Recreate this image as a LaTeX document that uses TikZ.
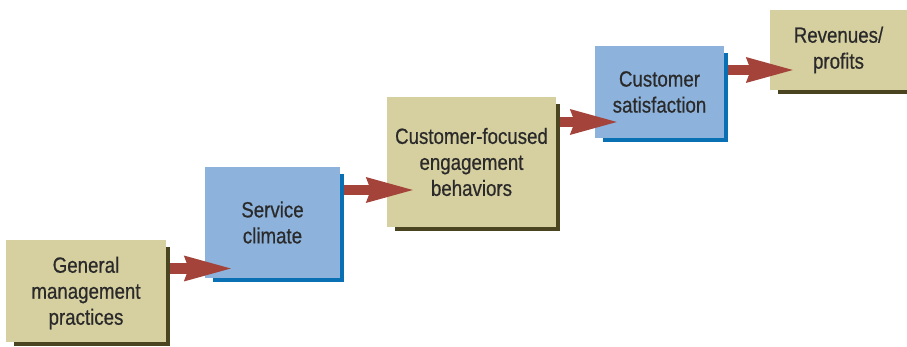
\documentclass[tikz,border=0pt]{standalone}
\usepackage{fontspec}
\setmainfont{Liberation Sans}[FakeStretch=0.85,FakeBold=0.6]
\usetikzlibrary{arrows.meta,calc,backgrounds}

\definecolor{tan}{HTML}{D6D0A0}
\definecolor{tanshade}{HTML}{4B4420}
\definecolor{sky}{HTML}{8DB3DC}
\definecolor{skyshade}{HTML}{0A70B4}
\definecolor{brick}{HTML}{A3433A}
\definecolor{ink}{HTML}{2A2A2A}

\tikzset{
  card/.style={inner sep=0pt, align=center, text=ink,
    font=\fontsize{22}{26}\selectfont},
  tancard/.style={card, fill=tan},
  skycard/.style={card, fill=sky},
  flow/.style={draw=brick, line width=10.5pt,
    -{Stealth[length=47pt,width=26pt,inset=5pt,line width=0pt,fill=brick]}},
}

% shadow strip behind a box, offset to the lower right
\newcommand{\cardshade}[2]{%
  \fill[#2] ($(#1.south west)+(8pt,-4pt)$) rectangle ($(#1.north east)+(4pt,-7pt)$);}

\begin{document}
\begin{tikzpicture}[x=1pt,y=1pt]
  \useasboundingbox (0,0) rectangle (907,347);

  % boxes
  \node[tancard, minimum width=160pt, minimum height=102pt] (gmp) at (86,56)
    {\\[-6pt]General\\management\\practices};
  \node[skycard, minimum width=135pt, minimum height=111pt] (svc) at (272.5,124.5)
    {Service\\climate};
  \node[tancard, minimum width=169pt, minimum height=130pt] (ceb) at (471.5,185)
    {Customer-focused\\engagement\\behaviors};
  \node[skycard, minimum width=129pt, minimum height=92pt] (csat) at (659.5,255)
    {Customer\\satisfaction};
  \node[tancard, minimum width=137pt, minimum height=80pt] (rev) at (838.5,297)
    {Revenues/\\profits};

  \begin{scope}[on background layer]
    \cardshade{gmp}{tanshade}
    \cardshade{svc}{skyshade}
    \cardshade{ceb}{tanshade}
    \cardshade{csat}{skyshade}
    \cardshade{rev}{tanshade}
  \end{scope}

  % arrow tips
  \coordinate (tip1) at ($(svc.west)+(26pt,-46pt)$);
  \coordinate (tip2) at ($(ceb.west)+(26pt,-28pt)$);
  \coordinate (tip3) at ($(csat.west)+(22pt,-30pt)$);
  \coordinate (tip4) at ($(rev.west)+(23pt,-20pt)$);

  % arrows
  \draw[flow] ($(gmp.east |- tip1)+(4pt,0)$) -- (tip1);
  \draw[flow] ($(svc.east |- tip2)+(4pt,0)$) -- (tip2);
  \draw[flow] ($(ceb.east |- tip3)+(4pt,0)$) -- (tip3);
  \draw[flow] ($(csat.east |- tip4)+(4pt,0)$) -- (tip4);
\end{tikzpicture}
\end{document}
